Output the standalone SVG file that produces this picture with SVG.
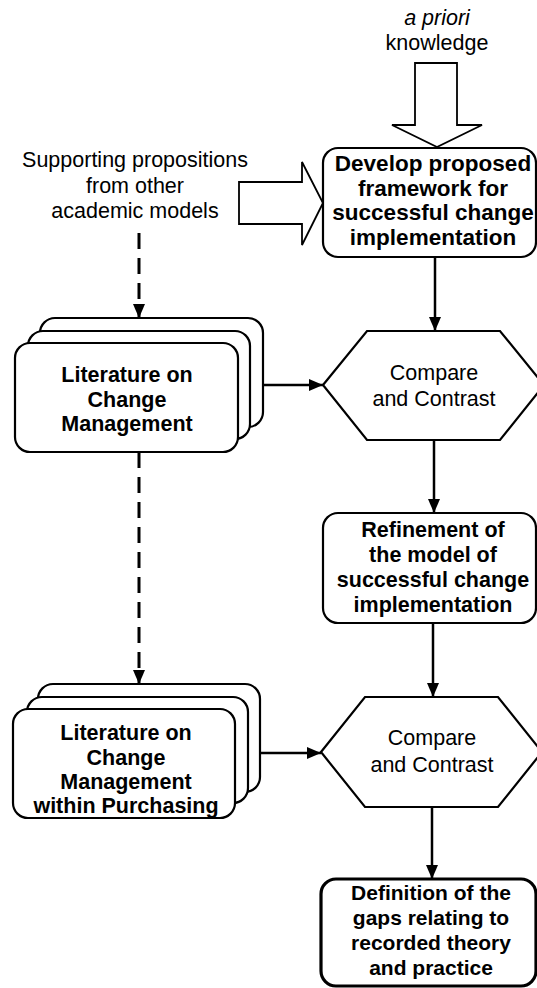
<svg xmlns="http://www.w3.org/2000/svg" width="537" height="988" viewBox="0 0 537 988">
  <style>
    .box { fill: #ffffff; stroke: #000000; stroke-width: 2.2; }
    .thick { stroke-width: 3.2; }
    .big { fill: #ffffff; stroke: #000000; stroke-width: 1.8; stroke-linejoin: miter; }
    .t { font-family: "Liberation Sans", Arial, sans-serif; font-size: 21.5px; fill: #000000; text-anchor: middle; }
    .b { font-weight: bold; font-size: 21.5px; }
    .lg { font-size: 22.5px; }
    .sm { font-size: 21px; }
    .i { font-style: italic; }
    .link { fill: none; stroke: #000000; stroke-width: 2.5; marker-end: url(#head); }
    .dash { stroke-width: 3; stroke-dasharray: 16 9; }
  </style>
  <defs>
    <marker id="head" markerUnits="userSpaceOnUse" markerWidth="14" markerHeight="12" refX="14" refY="6" orient="auto">
      <path d="M0,0 L14,6 L0,12 Z" fill="#000000"/>
    </marker>
  </defs>

  <rect width="537" height="988" fill="#ffffff"/>

  <!-- external inputs drawn as hollow block arrows -->
  <g id="apriori">
    <text class="t i" x="437" y="25">a priori</text>
    <text class="t" x="437" y="50">knowledge</text>
    <path class="big" d="M415,63 H457 V125 H482 L437,147 L392,125 H415 Z"/>
  </g>

  <g id="supporting">
    <text class="t" x="135" y="167">Supporting propositions</text>
    <text class="t" x="135" y="192.5">from other</text>
    <text class="t" x="135" y="218">academic models</text>
    <path class="big" d="M239,182 H302 V162 L323,203 L302,245 V224 H239 Z"/>
  </g>

  <g id="develop">
    <rect class="box" x="323" y="148" width="213" height="109" rx="15"/>
    <text class="t b lg" x="433" y="171">Develop proposed</text>
    <text class="t b lg" x="433" y="195.5">framework for</text>
    <text class="t b lg" x="433" y="220">successful change</text>
    <text class="t b lg" x="433" y="244.5">implementation</text>
  </g>

  <g id="literature1">
    <rect class="box" x="40" y="318" width="223" height="109" rx="15"/>
    <rect class="box" x="28" y="331" width="222" height="108" rx="15"/>
    <rect class="box" x="15" y="343" width="223" height="109" rx="15"/>
    <text class="t b" x="127" y="382">Literature on</text>
    <text class="t b" x="127" y="406.5">Change</text>
    <text class="t b" x="127" y="431">Management</text>
  </g>

  <g id="compare1">
    <polygon class="box" points="323,385 367,331 500,331 544,385 500,440 367,440"/>
    <text class="t" x="434" y="380">Compare</text>
    <text class="t" x="434" y="406">and Contrast</text>
  </g>

  <g id="refinement">
    <rect class="box" x="323" y="513" width="213" height="110" rx="15"/>
    <text class="t b" x="433" y="537">Refinement of</text>
    <text class="t b" x="433" y="562">the model of</text>
    <text class="t b" x="433" y="587">successful change</text>
    <text class="t b" x="433" y="612">implementation</text>
  </g>

  <g id="literature2">
    <rect class="box" x="38" y="684" width="222" height="108" rx="15"/>
    <rect class="box" x="27" y="697" width="221" height="106" rx="15"/>
    <rect class="box" x="13" y="709" width="222" height="109" rx="15"/>
    <text class="t b" x="126" y="740">Literature on</text>
    <text class="t b" x="126" y="764.5">Change</text>
    <text class="t b" x="126" y="789">Management</text>
    <text class="t b" x="126" y="813">within Purchasing</text>
  </g>

  <g id="compare2">
    <polygon class="box" points="321,752 365,697 498,697 542,752 498,807 365,807"/>
    <text class="t" x="432" y="745">Compare</text>
    <text class="t" x="432" y="772">and Contrast</text>
  </g>

  <g id="definition">
    <rect class="box thick" x="321" y="879" width="215" height="107" rx="15"/>
    <text class="t b sm" x="431" y="900">Definition of the</text>
    <text class="t b sm" x="431" y="925">gaps relating to</text>
    <text class="t b sm" x="431" y="950">recorded theory</text>
    <text class="t b sm" x="431" y="975">and practice</text>
  </g>

  <g id="connectors">
    <line class="link dash" x1="139" y1="233" x2="139" y2="318"/>
    <line class="link dash" x1="139" y1="452" x2="139" y2="684"/>
    <line class="link" x1="435" y1="257" x2="435" y2="331"/>
    <line class="link" x1="263" y1="385" x2="323" y2="385"/>
    <line class="link" x1="434" y1="440" x2="434" y2="513"/>
    <line class="link" x1="433" y1="623" x2="433" y2="697"/>
    <line class="link" x1="260" y1="753" x2="321" y2="753"/>
    <line class="link" x1="432" y1="807" x2="432" y2="879"/>
  </g>
</svg>
